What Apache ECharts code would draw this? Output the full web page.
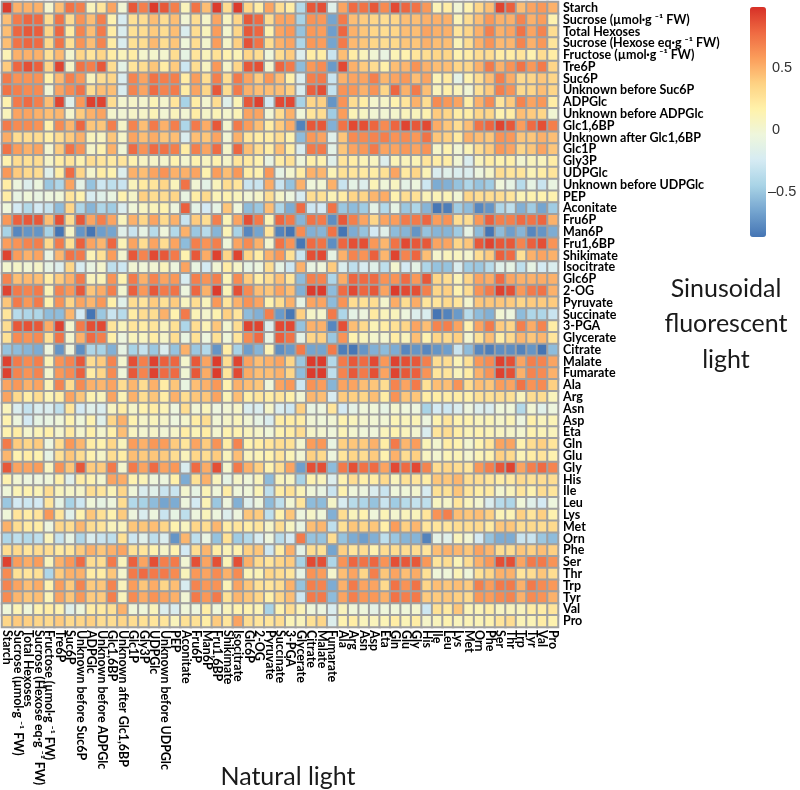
<!DOCTYPE html>
<html><head><meta charset="utf-8">
<style>html,body{margin:0;padding:0;background:#fff}#c{width:800px;height:790px}</style>
<script src="https://cdn.jsdelivr.net/npm/echarts@6/dist/echarts.min.js"></script>
</head><body><div id="c"></div>
<script>
const rowLabels = ["Starch","Sucrose (µmol·g ⁻¹ FW)","Total Hexoses","Sucrose (Hexose eq·g ⁻¹ FW)","Fructose (µmol·g ⁻¹ FW)","Tre6P","Suc6P","Unknown before Suc6P","ADPGlc","Unknown before ADPGlc","Glc1,6BP","Unknown after Glc1,6BP","Glc1P","Gly3P","UDPGlc","Unknown before UDPGlc","PEP","Aconitate","Fru6P","Man6P","Fru1,6BP","Shikimate","Isocitrate","Glc6P","2-OG","Pyruvate","Succinate","3-PGA","Glycerate","Citrate","Malate","Fumarate","Ala","Arg","Asn","Asp","Eta","Gln","Glu","Gly","His","Ile","Leu","Lys","Met","Orn","Phe","Ser","Thr","Trp","Tyr","Val","Pro"];
const colLabels = rowLabels.slice();
const colorbarTicks = [-0.5, 0, 0.5];
// correlation x 100, one array per row, left to right
const r00=[95,50,50,50,3,45,75,70,10,25,55,0,85,70,95,85,70,10,75,45,95,30,95,35,20,55,30,20,-40,85,88,-15,55,78,75,85,65,90,80,75,60,12,20,0,15,35,45,92,82,45,55,60,50];
const r01=[45,72,80,78,30,75,30,62,45,70,15,-22,28,30,45,30,45,0,30,5,55,8,35,85,78,30,55,55,-45,62,60,-65,72,45,40,35,30,35,45,45,50,50,50,12,30,45,60,50,50,68,50,58,15];
const r02=[45,80,85,83,35,80,20,68,45,72,20,-20,28,30,40,30,45,-20,30,10,58,3,35,85,80,15,55,60,-52,60,58,-68,80,50,42,35,30,35,45,45,55,50,50,25,35,50,70,50,55,75,55,68,30];
const r03=[45,75,80,78,33,75,28,62,45,68,20,-20,28,30,47,30,42,-3,30,3,58,5,38,87,75,30,50,55,-42,60,58,-65,72,47,42,35,30,33,42,42,50,45,45,12,30,50,62,47,48,68,50,60,25];
const r04=[12,50,50,50,28,47,2,35,25,35,20,10,20,3,3,2,30,-10,25,10,28,15,12,35,30,-3,30,40,-18,20,20,-30,45,20,10,0,-8,12,15,25,30,35,35,15,20,30,30,20,20,25,15,30,20];
const r05=[40,80,88,82,35,92,5,75,70,85,30,-12,25,30,42,20,40,-28,30,8,60,5,35,85,88,3,80,72,-55,60,65,-70,90,50,40,30,18,45,48,62,50,45,45,35,35,50,72,50,62,75,60,72,35];
const r06=[72,62,62,62,17,47,70,60,10,30,35,-20,68,55,75,70,70,20,58,30,70,30,72,55,40,60,45,18,-20,70,72,-30,50,55,55,70,48,55,60,45,55,12,22,-12,15,30,45,70,52,32,35,42,35];
const r07=[75,70,65,65,0,55,65,75,30,45,45,-20,68,55,78,68,72,20,55,35,85,30,72,50,45,45,45,38,-20,82,88,-32,62,60,50,62,35,80,50,72,45,10,18,10,0,28,40,70,62,32,35,45,35];
const r08=[15,72,78,70,45,92,-15,60,93,92,30,2,5,3,12,3,25,-45,20,2,30,-15,12,85,93,-25,90,90,-45,35,38,-72,62,30,20,3,5,15,25,50,30,65,60,55,20,50,65,25,40,68,55,60,20];
const r09=[10,55,55,50,45,48,3,40,50,55,3,0,5,5,12,0,10,0,20,5,12,3,12,55,55,0,30,50,-2,25,30,-48,58,12,7,0,0,3,10,10,15,40,35,20,20,35,35,15,20,45,40,35,0];
const r10=[72,65,65,62,17,65,48,80,42,42,70,5,68,45,72,50,70,-42,72,52,85,2,72,58,45,20,40,52,-80,85,85,-60,75,90,88,80,65,80,92,85,90,52,42,30,45,75,80,92,85,58,78,88,70];
const r11=[52,30,30,30,18,30,40,50,10,8,42,5,55,45,52,42,45,-20,45,42,55,0,50,25,20,20,30,15,-55,60,55,-15,42,65,65,68,70,62,65,60,75,42,38,22,50,45,42,62,60,42,42,50,45];
const r12=[75,58,50,55,2,40,75,62,5,15,50,0,78,62,78,75,70,20,70,55,78,5,80,45,30,20,45,20,-20,72,72,-12,42,55,60,72,55,55,60,55,62,5,15,0,12,30,40,60,55,35,42,55,42];
const r13=[15,30,28,30,5,20,25,15,30,25,22,25,15,7,5,3,15,2,15,8,15,5,25,22,15,-8,20,28,-2,18,15,-15,25,20,12,8,-18,12,10,12,25,20,20,0,-20,10,20,15,18,2,10,10,20];
const r14=[60,40,32,30,-15,20,78,35,3,20,15,-18,50,45,55,62,50,50,55,15,58,45,60,20,15,60,-10,2,20,50,48,12,28,25,22,20,28,55,22,35,12,-20,-15,-20,-20,-5,5,30,25,25,12,20,25];
const r15=[20,-5,-18,-6,-50,-42,55,-12,-52,-28,-35,-30,10,22,25,35,10,75,0,-12,10,30,25,-30,-30,52,-30,-52,50,-3,0,50,-30,-12,-18,12,-2,8,-12,-5,-28,-62,-60,-52,-42,-52,-48,-3,-10,-38,-10,-30,-8];
const r16=[20,-8,-2,-8,-5,-2,25,15,-22,-15,-8,15,5,38,30,30,35,-8,20,32,12,15,10,0,5,30,5,-5,-22,30,28,12,20,35,35,48,52,15,30,28,12,12,12,0,35,30,30,30,25,12,15,15,15];
const r17=[-3,-25,-40,-25,-32,-55,35,-42,-58,-42,-48,-20,-2,7,10,15,-5,82,-12,-25,-10,42,-3,-55,-50,45,-42,-62,78,-28,-25,75,-50,-55,-48,-12,-40,-10,-50,-42,-58,-85,-82,-48,-55,-78,-72,-42,-35,-60,-48,-65,-48];
const r18=[60,82,85,85,45,88,30,85,55,70,55,10,50,35,55,32,50,-30,40,30,70,12,55,88,72,12,80,72,-58,75,72,-75,85,70,55,35,55,58,72,72,80,58,62,30,30,60,82,70,70,78,75,80,50];
const r19=[-45,-78,-72,-72,-45,-90,5,-72,-88,-68,-65,-15,-30,-10,-38,-3,-40,50,-50,-38,-58,12,-45,-78,-65,25,-80,-88,65,-60,-58,75,-88,-62,-52,-25,-15,-55,-58,-72,-52,-58,-58,-48,-10,-55,-88,-55,-68,-58,-78,-72,-62];
const r20=[58,62,68,70,32,72,28,82,55,48,80,12,55,30,55,30,55,-55,70,62,70,-2,55,65,50,2,75,62,-85,78,75,-75,80,88,88,60,48,75,90,85,85,55,55,35,42,85,92,85,85,68,82,88,62];
const r21=[92,58,50,55,-8,48,75,72,12,28,58,2,85,68,90,85,72,15,85,52,93,35,92,35,20,50,60,28,-30,88,90,-10,50,68,62,82,48,92,68,80,45,3,10,8,3,30,40,82,78,28,50,55,50];
const r22=[2,5,0,5,-10,-18,35,-22,-8,3,-35,-28,0,-2,0,10,-5,55,-8,-25,0,20,5,-10,-5,30,-10,-28,50,-8,-3,40,-20,-35,-22,-15,-35,2,-25,-12,-42,-52,-52,-20,-48,-50,-38,-15,-10,-35,-10,-25,-20];
const r23=[68,45,47,45,20,40,50,72,10,12,62,15,72,50,68,55,60,-22,70,62,70,12,65,40,20,30,45,25,-55,70,68,-42,52,80,78,78,62,62,78,60,85,35,30,12,35,55,52,78,55,50,50,52,50];
const r24=[92,72,68,72,12,68,60,85,42,52,70,2,82,60,85,72,75,-5,80,50,95,12,88,65,45,42,55,45,-60,95,95,-55,78,90,80,85,55,95,90,88,70,35,38,15,30,62,72,93,88,60,72,75,50];
const r25=[42,72,60,72,15,62,35,55,48,60,18,-15,30,25,40,28,40,8,30,10,60,25,50,62,55,15,30,50,-10,55,55,-55,62,30,28,30,3,52,30,52,25,25,32,25,3,42,42,42,40,35,40,40,40];
const r26=[25,-38,-42,-42,-55,-55,48,-25,-90,-50,-30,-38,20,30,30,50,15,72,12,3,15,38,25,-55,-60,70,-70,-85,38,5,3,72,-42,-12,-5,22,10,10,-5,-18,-20,-88,-80,-70,-38,-55,-60,0,-5,-55,-42,-42,-30];
const r27=[30,85,87,85,52,93,2,72,88,90,25,10,25,20,25,10,28,-42,30,12,42,2,30,92,92,-18,90,90,-52,50,50,-78,88,45,32,12,20,28,35,55,45,68,70,55,15,55,72,40,35,70,52,68,20];
const r28=[28,65,62,65,28,75,2,50,78,70,18,-5,10,8,20,5,30,-8,28,-5,28,-2,25,65,78,-8,82,75,-12,35,38,-50,62,15,10,3,2,20,10,45,15,35,32,38,2,28,45,20,32,48,42,48,25];
const r29=[-52,-55,-58,-62,-5,-72,-5,-75,-42,-45,-60,-10,-45,-32,-50,-20,-52,50,-50,-40,-72,20,-45,-68,-58,12,-75,-70,72,-65,-65,72,-82,-85,-72,-60,-55,-62,-78,-72,-78,-72,-68,-30,-55,-78,-82,-75,-75,-80,-72,-88,-55];
const r30=[93,72,65,70,12,62,68,85,30,40,68,2,88,70,93,82,80,3,85,55,95,30,92,55,45,50,55,35,-50,95,95,-40,72,85,78,90,60,93,88,85,70,30,30,12,28,60,65,93,88,55,70,68,55];
const r31=[93,68,62,68,3,60,65,82,20,35,65,-2,85,68,93,78,78,0,85,52,95,25,90,52,45,45,50,35,-55,95,95,-35,68,85,72,88,55,92,85,82,62,25,25,10,20,50,62,93,88,50,68,65,50];
const r32=[55,60,50,55,12,68,30,65,50,48,55,30,48,30,50,20,42,-8,45,50,60,15,50,45,42,-3,55,60,-28,62,58,-58,55,55,45,42,30,68,55,72,28,45,45,62,30,45,42,58,55,75,62,65,38];
const r33=[55,32,20,30,12,20,55,42,15,10,55,12,50,30,42,20,50,30,42,42,55,12,45,20,25,20,25,18,0,48,45,-22,40,38,35,45,20,62,42,42,20,20,20,20,18,28,28,30,28,10,30,30,10];
const r34=[10,-20,-32,-20,-20,-35,25,-25,-15,-20,8,20,5,15,20,12,-5,30,0,10,-5,0,5,-20,-20,5,-20,-28,38,-8,-5,25,-25,-12,-2,-2,-10,2,-3,-5,-45,-25,-28,-20,-5,-18,-20,-2,-2,-40,0,-15,-5];
const r35=[15,-5,-25,-10,-8,-2,15,-2,15,-15,35,50,15,5,10,5,-5,3,20,30,0,5,10,0,-10,-20,20,20,20,0,-2,0,15,10,3,0,0,12,10,12,-5,15,25,15,15,10,12,5,12,-5,18,10,12];
const r36=[15,20,3,12,18,3,22,3,18,3,18,45,8,2,5,0,5,20,12,20,2,15,15,10,5,-2,15,20,30,5,2,-3,12,2,-2,-3,10,15,10,2,-20,25,30,20,12,15,12,8,5,2,15,12,10];
const r37=[72,40,35,40,-5,30,60,48,20,15,35,10,58,50,60,58,40,25,55,40,62,20,68,15,20,25,30,28,2,58,60,-8,38,42,40,50,20,72,48,58,12,2,20,15,2,15,25,55,55,15,30,38,25];
const r38=[48,15,20,15,-10,28,42,30,15,5,30,20,45,40,42,40,30,10,35,30,40,10,45,10,12,15,25,12,0,38,32,-5,25,35,30,40,15,50,30,38,8,2,12,12,3,12,15,38,32,12,20,25,15];
const r39=[85,55,55,58,8,62,42,85,40,40,72,3,72,55,78,55,60,-20,78,52,88,3,72,50,38,15,30,55,-68,88,88,-55,72,88,75,78,55,90,78,90,68,30,35,30,25,60,70,85,92,55,70,78,68];
const r40=[15,0,-5,-5,-2,18,-15,20,15,3,55,52,15,12,-3,-5,18,-62,28,50,10,-10,5,-2,10,-55,10,8,-45,15,10,-18,15,30,18,20,32,10,28,25,20,42,42,48,30,30,25,20,22,32,28,30,30];
const r41=[-2,12,15,12,30,10,5,5,30,25,12,35,-2,-20,-15,-30,-30,2,-10,12,-2,20,-3,-2,12,-35,20,28,12,-2,-8,-30,15,-3,-5,-20,-30,-3,-2,2,-22,28,28,42,25,20,22,2,10,25,15,30,25];
const r42=[-50,-25,-28,-25,25,-10,-45,-28,-2,-10,-5,30,-40,-45,-55,-65,-62,-5,-25,12,-50,-5,-60,-18,-5,-55,-35,0,25,-55,-55,5,-22,-38,-42,-52,-30,-48,-38,-32,-35,8,5,25,10,2,-20,-38,-42,-2,-15,-25,-5];
const r43=[-2,25,20,25,60,25,-15,15,42,28,15,40,-5,-20,-5,-30,-10,-35,-5,10,-5,-18,-5,42,40,-35,15,42,-5,5,-2,-60,30,10,15,-3,12,2,10,10,25,62,70,45,42,45,38,12,12,38,25,38,15];
const r44=[50,30,22,20,-5,35,30,48,30,25,10,10,42,42,45,35,15,8,35,30,48,20,25,20,25,5,30,8,-8,45,48,-35,28,42,35,42,18,58,38,48,25,25,25,30,30,32,22,42,42,30,32,30,32];
const r45=[-42,-35,-40,-35,10,-32,-10,-42,-20,-30,-35,28,-28,-15,-35,-20,-72,48,-35,-8,-52,28,-48,-40,-22,-5,-38,-25,72,-52,-52,30,-52,-62,-68,-60,-35,-50,-58,-58,-80,-12,-15,10,0,-25,-52,-62,-62,-30,-30,-50,-55];
const r46=[30,32,25,30,30,22,25,40,50,42,50,55,28,25,15,5,15,-25,30,48,20,12,15,38,42,-28,20,50,-12,30,28,-65,38,25,30,15,30,30,30,30,25,45,50,48,42,55,48,30,30,42,38,45,38];
const r47=[93,58,52,58,10,50,60,78,30,30,72,10,82,55,88,70,72,0,88,55,88,12,88,50,32,25,35,40,-45,90,88,-42,62,80,75,80,62,88,85,85,60,25,30,12,30,50,60,88,88,55,72,72,62];
const r48=[65,28,25,28,-42,40,50,50,20,20,42,3,72,78,72,72,65,10,60,55,65,50,65,12,12,35,30,25,-10,62,58,3,45,55,35,70,42,55,45,52,28,-2,-2,12,-2,28,35,50,50,25,30,42,30];
const r49=[68,55,45,52,15,58,40,68,40,42,68,10,58,42,52,35,45,-22,68,60,62,12,55,42,28,25,30,50,-52,70,68,-62,50,72,55,55,32,75,62,75,35,45,42,45,40,70,58,72,72,50,72,65,60];
const r50=[65,48,42,45,12,55,42,60,40,40,70,10,65,52,62,55,50,0,72,60,72,28,48,42,35,18,35,45,-28,72,72,-55,55,70,60,60,50,75,70,72,40,40,42,38,32,60,58,65,68,50,65,62,50];
const r51=[-2,12,-2,15,20,15,-15,-2,20,22,28,50,-2,-2,10,-18,-20,-2,-5,20,-2,10,15,15,12,-45,15,30,12,-2,-5,-20,10,-2,-3,-12,-3,-2,-2,2,-28,28,22,42,12,12,20,8,10,10,20,20,25];
const r52=[35,40,38,35,32,40,32,35,38,30,30,35,30,28,25,25,10,28,28,20,40,25,55,30,25,25,30,12,10,28,35,-18,15,20,10,10,12,20,12,20,5,10,15,10,12,12,15,25,30,12,12,20,15];
const rows=[r00,r01,r02,r03,r04,r05,r06,r07,r08,r09,r10,r11,r12,r13,r14,r15,r16,r17,r18,r19,r20,r21,r22,r23,r24,r25,r26,r27,r28,r29,r30,r31,r32,r33,r34,r35,r36,r37,r38,r39,r40,r41,r42,r43,r44,r45,r46,r47,r48,r49,r50,r51,r52];

const cells=[];
rows.forEach((r,y)=>r.forEach((v,x)=>cells.push([x,y,v/100])));
const ramp=['#4575b4','#74a4cf','#a8d3e6','#d5ebf3','#eef6dc','#fff2ab','#fed283','#fb9d5b','#ef6a42','#d73027'];

const chart=echarts.init(document.getElementById('c'),null,{renderer:'canvas'});
chart.setOption({
  animation:false,
  backgroundColor:'#fff',
  textStyle:{fontFamily:'Lato'},
  title:[
    {text:'Natural light',left:283,top:759,textAlign:'center',textStyle:{fontFamily:'Lato',fontWeight:'normal',fontSize:25,color:'#1a1a1a'}},
    {text:'Sinusoidal\nfluorescent\nlight',left:721,top:266,textAlign:'center',textStyle:{fontFamily:'Lato',fontWeight:'normal',fontSize:25,lineHeight:35.5,color:'#1a1a1a'}}
  ],
  grid:[
    {left:2,top:2,width:556,height:625},
    {left:750,top:7,width:16,height:230}
  ],
  xAxis:[
    {type:'category',gridIndex:0,data:colLabels,position:'bottom',splitArea:{show:false},
     axisLine:{show:false},axisTick:{show:false},
     axisLabel:{interval:0,rotate:-90,margin:3,fontFamily:'Lato',fontWeight:'bold',fontSize:12.4,color:'#000'}},
    {type:'category',gridIndex:1,show:false,data:['']}
  ],
  yAxis:[
    {type:'category',gridIndex:0,data:rowLabels,inverse:true,position:'right',
     axisLine:{show:false},axisTick:{show:false},
     axisLabel:{interval:0,margin:5,fontFamily:'Lato',fontWeight:'bold',fontSize:12.5,color:'#000'}},
    {type:'value',gridIndex:1,position:'right',min:-0.86,max:0.99,
     splitLine:{show:false},axisLine:{show:false},axisTick:{show:false},
     axisLabel:{margin:2,fontFamily:'Liberation Sans',fontSize:14.5,color:'#333',
       customValues:colorbarTicks,
       formatter:v=>v<0?'–'+Math.abs(v):'{p|'+v+'}',
       rich:{p:{padding:[0,0,0,4],fontFamily:'Liberation Sans',fontSize:14.5,color:'#333'}}}}
  ],
  visualMap:{type:'continuous',seriesIndex:0,min:-0.86,max:0.99,calculable:false,
    left:750,top:7,itemWidth:16,itemHeight:230,text:null,showLabel:false,
    inRange:{color:ramp},padding:0,textStyle:{fontSize:0}},
  series:[{type:'heatmap',xAxisIndex:0,yAxisIndex:0,data:cells,
    itemStyle:{borderColor:'#a0a0a0',borderWidth:2},
    emphasis:{disabled:true}}]
});
</script></body></html>
